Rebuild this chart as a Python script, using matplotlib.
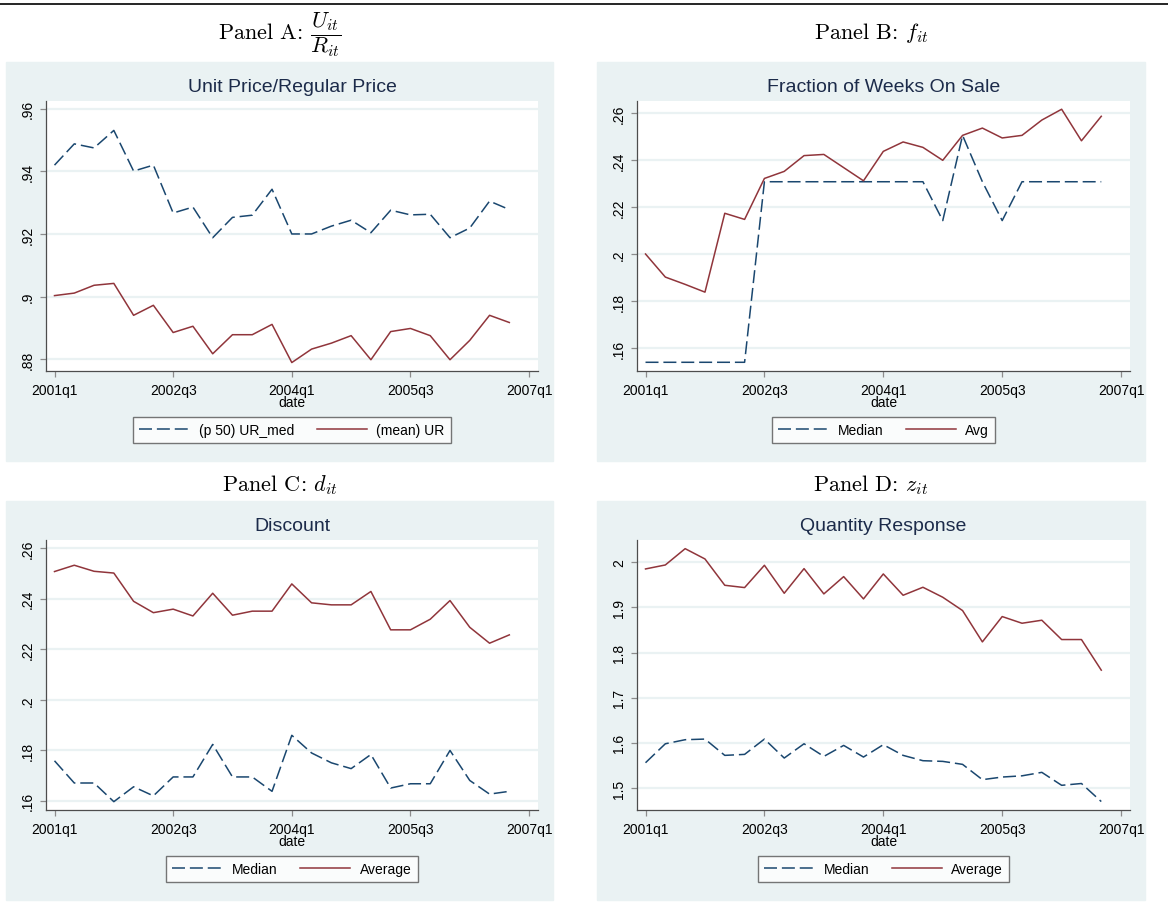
import matplotlib
matplotlib.use("Agg")
from matplotlib import pyplot as plt
from matplotlib.patches import Rectangle
from matplotlib.lines import Line2D

plt.rcParams['font.family'] = ['Liberation Sans', 'DejaVu Sans']
plt.rcParams['mathtext.fontset'] = 'cm'

# quarters 2001q1 .. 2006q4 as index 0..23
quarters = list(range(24))
tick_pos = [0, 6, 12, 18, 24]
tick_labels = ['2001q1', '2002q3', '2004q1', '2005q3', '2007q1']

# Panel A: unit price / regular price
ur_med = [.942, .9488, .9475, .9531, .9401, .942, .9267, .9286, .9188, .9253,
          .926, .9343, .920, .920, .9225, .9244, .9204, .9276, .9261, .9263,
          .9188, .9219, .9305, .9278]
ur_mean = [.9003, .9011, .9036, .9042, .894, .8972, .8885, .8905, .8817, .8878,
           .8878, .8911, .8789, .8832, .8851, .8875, .8798, .8888, .8898, .8875,
           .8798, .886, .894, .8917]

# Panel B: fraction of weeks on sale
f_med = [.1541, .1541, .1541, .1541, .1541, .1541, .2308, .2308, .2308, .2308,
         .2308, .2308, .2308, .2308, .2308, .2143, .2505, .2308, .2143, .2308,
         .2308, .2308, .2308, .2308]
f_avg = [.2001, .1903, .1872, .1839, .2174, .2148, .2322, .2352, .2419, .2424,
         .2368, .2312, .2437, .2477, .2454, .2399, .2505, .2536, .2494, .2505,
         .257, .2616, .2482, .2586]

# Panel C: discount
d_med = [.1758, .167, .167, .1596, .1655, .1619, .1694, .1694, .1823, .1694,
         .1694, .1637, .1859, .1789, .175, .1727, .1783, .165, .1667, .1667,
         .1799, .168, .1626, .1637]
d_avg = [.2508, .2533, .2509, .2502, .239, .2345, .2359, .2332, .2422, .2335,
         .2351, .2351, .2459, .2384, .2376, .2376, .2429, .2277, .2277, .2319,
         .2393, .2287, .2224, .2257]

# Panel D: quantity response
z_med = [1.556, 1.598, 1.607, 1.6084, 1.5723, 1.5745, 1.6084, 1.5664, 1.598, 1.570,
         1.5944, 1.5686, 1.596, 1.5723, 1.5605, 1.559, 1.5524, 1.5185, 1.5243, 1.527,
         1.5347, 1.506, 1.51, 1.47]
z_avg = [1.9853, 1.9941, 2.0302, 2.0074, 1.9491, 1.944, 1.9934, 1.9314, 1.986, 1.93,
         1.9683, 1.9189, 1.9742, 1.927, 1.9447, 1.9226, 1.8931, 1.8237, 1.8798, 1.865,
         1.8717, 1.8289, 1.8289, 1.7611]

NAVY = '#1a476f'
MAROON = '#90353b'
BG = '#eaf2f3'
W, H = 1168, 904

fig = plt.figure(figsize=(W / 100, H / 100), dpi=100)

# top rule
fig.add_artist(Line2D([0, 1], [1 - 4.5 / H, 1 - 4.5 / H], color='black', lw=1.2,
                      transform=fig.transFigure))


def make_panel(box, plot, title, panel_label, label_y, med, avg, yticks, ytl, ylim,
               med_lab, avg_lab):
    l, t, r, b = box
    fig.add_artist(Rectangle((l / W, 1 - b / H), (r - l) / W, (b - t) / H,
                             transform=fig.transFigure, color=BG, zorder=-1))
    pl, pt, pr, pb = plot
    ax = fig.add_axes([pl / W, 1 - pb / H, (pr - pl) / W, (pb - pt) / H])
    ax.plot(quarters, med, color=NAVY, lw=1.1, dashes=(8.5, 3.2), label=med_lab)
    ax.plot(quarters, avg, color=MAROON, lw=1.1, label=avg_lab)
    ax.set_xlim(-0.43, 24.45)
    ax.set_ylim(*ylim)
    ax.set_xticks(tick_pos)
    ax.set_xticklabels(tick_labels, fontsize=10)
    ax.set_yticks(yticks)
    ax.set_yticklabels(ytl, fontsize=10, rotation=90, va='center')
    ax.grid(axis='y', color=BG, lw=1.6)
    ax.set_axisbelow(True)
    for s in ['top', 'right']:
        ax.spines[s].set_visible(False)
    for s in ['left', 'bottom']:
        ax.spines[s].set_color('#4d4d4d')
        ax.spines[s].set_linewidth(0.9)
    ax.tick_params(length=4, width=0.9, color='#8c8c8c')
    ax.tick_params(axis='x', pad=4.5)
    ax.tick_params(axis='y', pad=4)
    ax.set_xlabel('date', fontsize=10, labelpad=-1)
    ax.set_title(title, fontsize=14, color='#1c2b4a', pad=7)
    cx = (pl + pr) / 2
    leg = ax.legend(loc='center', bbox_to_anchor=(cx / W, 1 - (pb + 59) / H),
                    bbox_transform=fig.transFigure, ncol=2, fontsize=10,
                    frameon=True, fancybox=False, edgecolor='#555555',
                    handlelength=3.6, handletextpad=0.7, columnspacing=1.6,
                    borderpad=0.45)
    leg.get_frame().set_linewidth(1.0)
    fig.text((l + r) / 2 / W, 1 - label_y / H, panel_label, fontsize=16,
             family='cmr10', ha='center', va='center')
    return ax


make_panel((6, 63, 553, 462), (46, 102, 538, 372), 'Unit Price/Regular Price',
           r'Panel A: $\dfrac{U_{it}}{R_{it}}$', 35,
           ur_med, ur_mean, [.88, .9, .92, .94, .96], ['.88', '.9', '.92', '.94', '.96'],
           (0.8762, 0.9625), '(p 50) UR_med', '(mean) UR')
make_panel((597, 63, 1145, 462), (637, 102, 1130, 372), 'Fraction of Weeks On Sale',
           r'Panel B: $f_{it}$', 33,
           f_med, f_avg, [.16, .18, .2, .22, .24, .26], ['.16', '.18', '.2', '.22', '.24', '.26'],
           (0.1504, 0.2651), 'Median', 'Avg')
make_panel((6, 502, 553, 901), (46, 541, 538, 811), 'Discount',
           r'Panel C: $d_{it}$', 485,
           d_med, d_avg, [.16, .18, .2, .22, .24, .26], ['.16', '.18', '.2', '.22', '.24', '.26'],
           (0.1563, 0.2633), 'Median', 'Average')
make_panel((597, 502, 1145, 901), (637, 541, 1130, 811), 'Quantity Response',
           r'Panel D: $z_{it}$', 485,
           z_med, z_avg, [1.5, 1.6, 1.7, 1.8, 1.9, 2], ['1.5', '1.6', '1.7', '1.8', '1.9', '2'],
           (1.4513, 2.0494), 'Median', 'Average')

plt.savefig('out.png', dpi=100)
